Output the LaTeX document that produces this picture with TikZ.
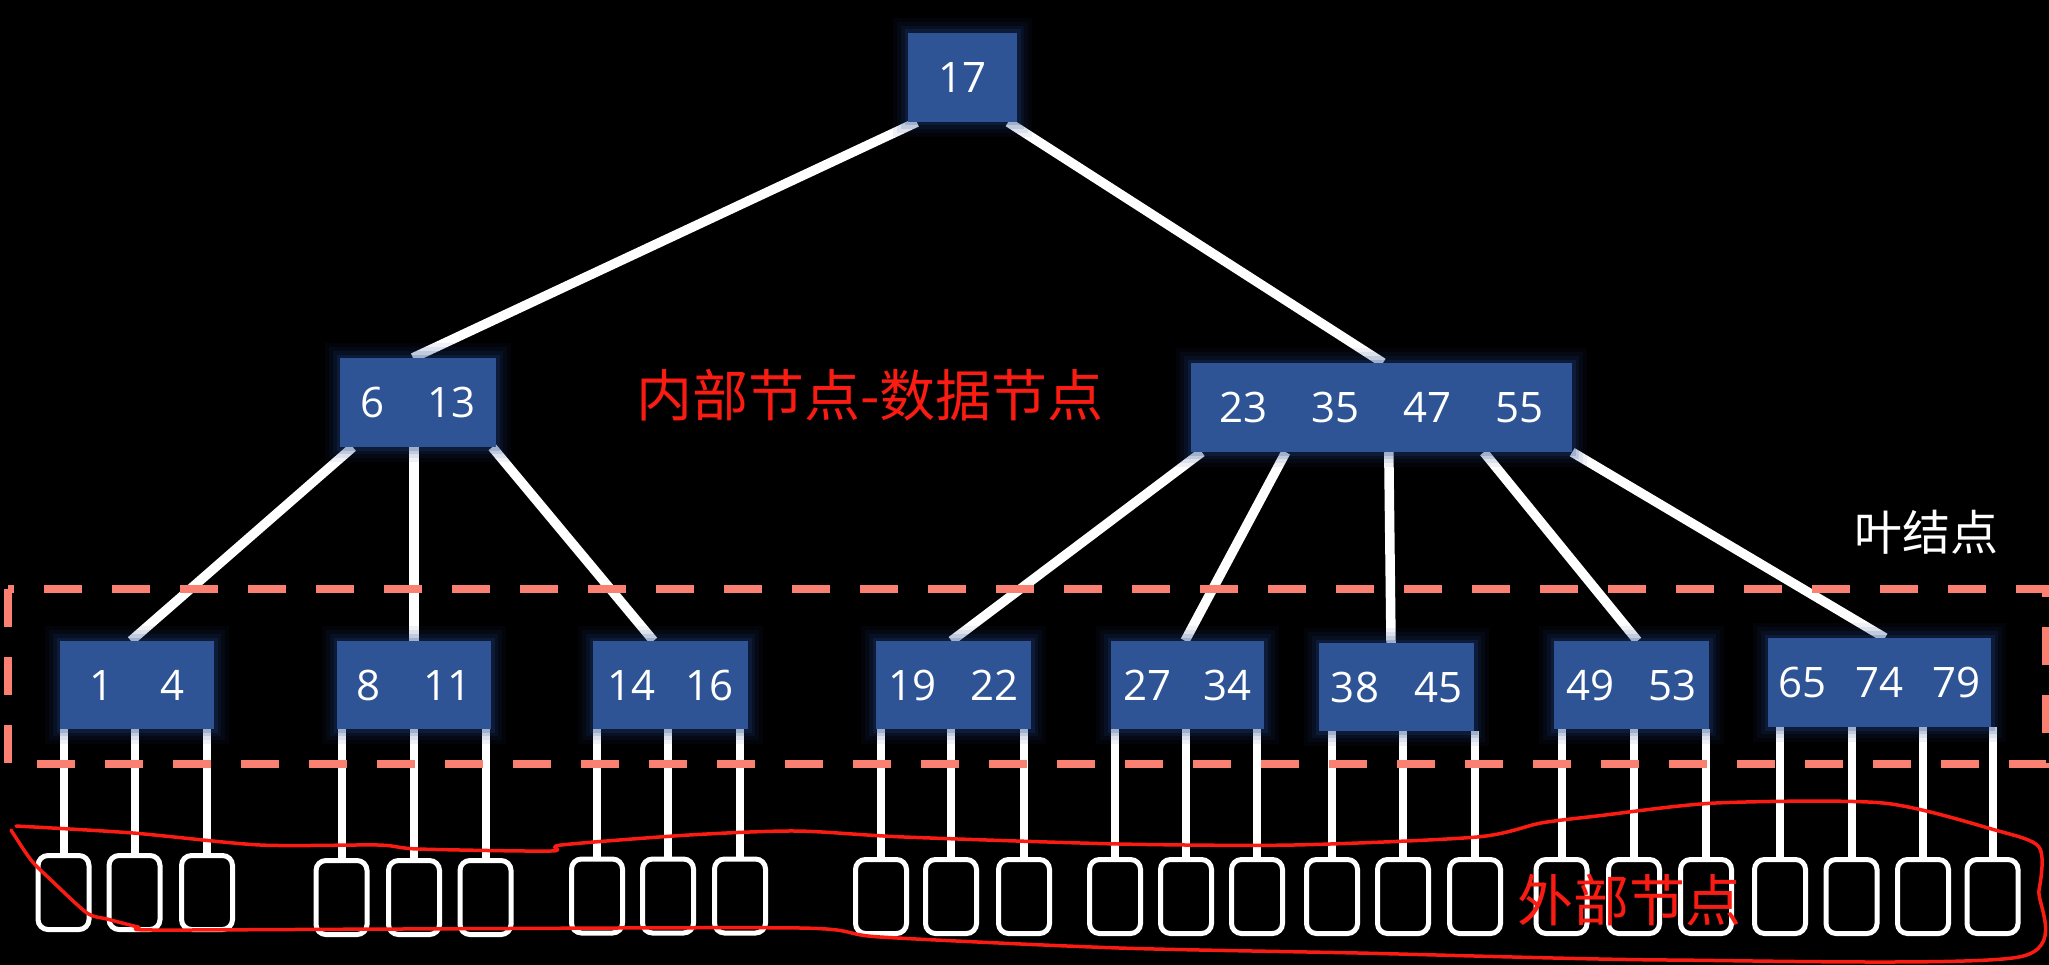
\documentclass[tikz,border=0pt]{standalone}
\usepackage{fontspec}
\newfontfamily\numfont{Open Sans}
\newfontfamily\cjk{Noto Sans CJK SC}
\usetikzlibrary{backgrounds}
\definecolor{boxblue}{RGB}{46,84,150}
\definecolor{glowblue}{RGB}{35,70,140}
\definecolor{salmon}{RGB}{250,128,114}
\definecolor{redink}{RGB}{250,28,18}
\begin{document}
\begin{tikzpicture}[x=1pt,y=-1pt,
  bluebox/.style={fill=boxblue, draw=none, minimum height=89pt, inner sep=0pt,
    text=white, font=\numfont\fontsize{42}{50}\selectfont,
    preaction={draw=glowblue, line width=30pt, draw opacity=0.07, rounded corners=12pt},
    preaction={draw=glowblue, line width=22pt, draw opacity=0.09, rounded corners=8pt},
    preaction={draw=glowblue, line width=14pt, draw opacity=0.14, rounded corners=4pt},
    preaction={draw=glowblue, line width=7pt, draw opacity=0.2}},
  extbox/.style={draw=white, fill=black, line width=5pt, rounded corners=10pt,
    minimum width=51pt, minimum height=74pt, inner sep=0pt},
  edge/.style={white, line width=9.5pt},
  dashbox/.style={salmon, line width=8pt, dash pattern=on 38pt off 30pt},
  redlbl/.style={text=redink, font=\cjk\fontsize{56}{60}\selectfont, inner sep=0pt},
  whitelbl/.style={text=white, font=\cjk\fontsize{48}{52}\selectfont, inner sep=0pt}
]
\useasboundingbox (0,0) rectangle (2049,965);
\begin{scope}[on background layer]
  \fill[black] (0,0) rectangle (2049,965);
\end{scope}

% internal nodes
\node[bluebox, minimum width=109pt] (root) at (962.5,77.5) {17};
\node[bluebox, minimum width=156pt] (n613) at (418,402.5) {6\hspace{42pt}13};
\node[bluebox, minimum width=381pt] (n23) at (1381.5,407.5) {23\hspace{44pt}35\hspace{44pt}47\hspace{44pt}55};

% leaf nodes
\node[bluebox, minimum width=154pt, minimum height=88pt] (l14) at (137,685) {1\hspace{46pt}4};
\node[bluebox, minimum width=154pt, minimum height=88pt] (l811) at (414,685) {8\hspace{42pt}11};
\node[bluebox, minimum width=155pt, minimum height=88pt] (l1416) at (670.5,685) {14\hspace{30pt}16};
\node[bluebox, minimum width=155pt, minimum height=88pt] (l1922) at (953.5,685) {19\hspace{34pt}22};
\node[bluebox, minimum width=153pt, minimum height=88pt] (l2734) at (1187.5,685) {27\hspace{32pt}34};
\node[bluebox, minimum width=155pt, minimum height=88pt] (l3845) at (1396.5,687) {38\hspace{35pt}45};
\node[bluebox, minimum width=155pt, minimum height=88pt] (l4953) at (1631.5,685) {49\hspace{34pt}53};
\node[bluebox, minimum width=223pt] (l657479) at (1879.5,682.5) {65\hspace{29pt}74\hspace{29pt}79};

% external nodes
\foreach \n/\x/\y in {e1a/63.5/892.5, e1b/134.5/892.5, e1c/207/892.5,
  e2a/341.5/897.5, e2b/414/897.5, e2c/485.5/897.5,
  e3a/597/896, e3b/668/896, e3c/740/896,
  e4a/881/896.5, e4b/951/896.5, e4c/1024/896.5,
  e5a/1115/896.5, e5b/1186/896.5, e5c/1257/896.5,
  e6a/1332/896.5, e6b/1403/896.5, e6c/1475/896.5,
  e7a/1561.5/896.5, e7b/1634/896.5, e7c/1706/896.5,
  e8a/1780/896.5, e8b/1851.5/896.5, e8c/1923/896.5, e8d/1992.5/896.5}
  \node[extbox] (\n) at (\x,\y) {};

% connectors (behind boxes)
\begin{scope}[on background layer]
  \draw[edge] ([xshift=9pt]root.south west) -- ([xshift=-5pt]n613.north);
  \draw[edge] ([xshift=-9pt]root.south east) -- ([xshift=1.5pt]n23.north);
  \draw[edge] ([xshift=13pt]n613.south west) -- ([xshift=-6pt]l14.north);
  \draw[edge] ([xshift=-4pt]n613.south) -- (l811.north);
  \draw[edge] ([xshift=-4pt]n613.south east) -- ([xshift=-17pt]l1416.north);
  \draw[edge] ([xshift=11pt]n23.south west) -- ([xshift=-2pt]l1922.north);
  \draw[edge] ([xshift=95pt]n23.south west) -- ([xshift=-2.5pt]l2734.north);
  \draw[edge] ([xshift=198pt]n23.south west) -- ([xshift=-5.5pt]l3845.north);
  \draw[edge] ([xshift=293pt]n23.south west) -- ([xshift=6pt]l4953.north);
  \draw[edge] (n23.south east) -- ([xshift=5.5pt]l657479.north);
  \foreach \e/\l in {e1a/l14, e1b/l14, e1c/l14, e2a/l811, e2b/l811, e2c/l811,
    e3a/l1416, e3b/l1416, e3c/l1416, e4a/l1922, e4b/l1922, e4c/l1922,
    e5a/l2734, e5b/l2734, e5c/l2734, e6a/l3845, e6b/l3845, e6c/l3845,
    e7a/l4953, e7b/l4953, e7c/l4953,
    e8a/l657479, e8b/l657479, e8c/l657479, e8d/l657479}
    \draw[edge, line width=8pt] (\e.north) -- (\e.north |- \l.south);
\end{scope}

% leaf-node frame
\coordinate (ftl) at (8,589);
\coordinate (fbr) at (2046,764);
\draw[dashbox] (ftl) rectangle (fbr);

% labels
\node[redlbl] (inner) at (870,395) {内部节点-数据节点};
\node[whitelbl] (leaflbl) at (1926,532) {叶结点};

% hand-drawn outline of external nodes
\draw[redink, line width=3.5pt, line join=round, line cap=round]
  plot[smooth, tension=0.45] coordinates {
  (16,826) (133,833) (260,845) (378,845) (418,849) (551,851) (561,845)
  (689,835) (796,831) (904,837) (1119,844) (1294,845) (1477,837)
  (1541,823) (1597,816) (1716,803) (1883,803) (1995,830) (2039,847)
  (2039,890) (2019,957) (1668,960) (1358,953) (1119,948) (880,937)
  (800,928) (400,929) (153,930) (138,927) (107,919) (87,913) (51,880)
  (31,860) (11,830)};
\node[redlbl] (outer) at (1629,900) {外部节点};
\end{tikzpicture}
\end{document}
